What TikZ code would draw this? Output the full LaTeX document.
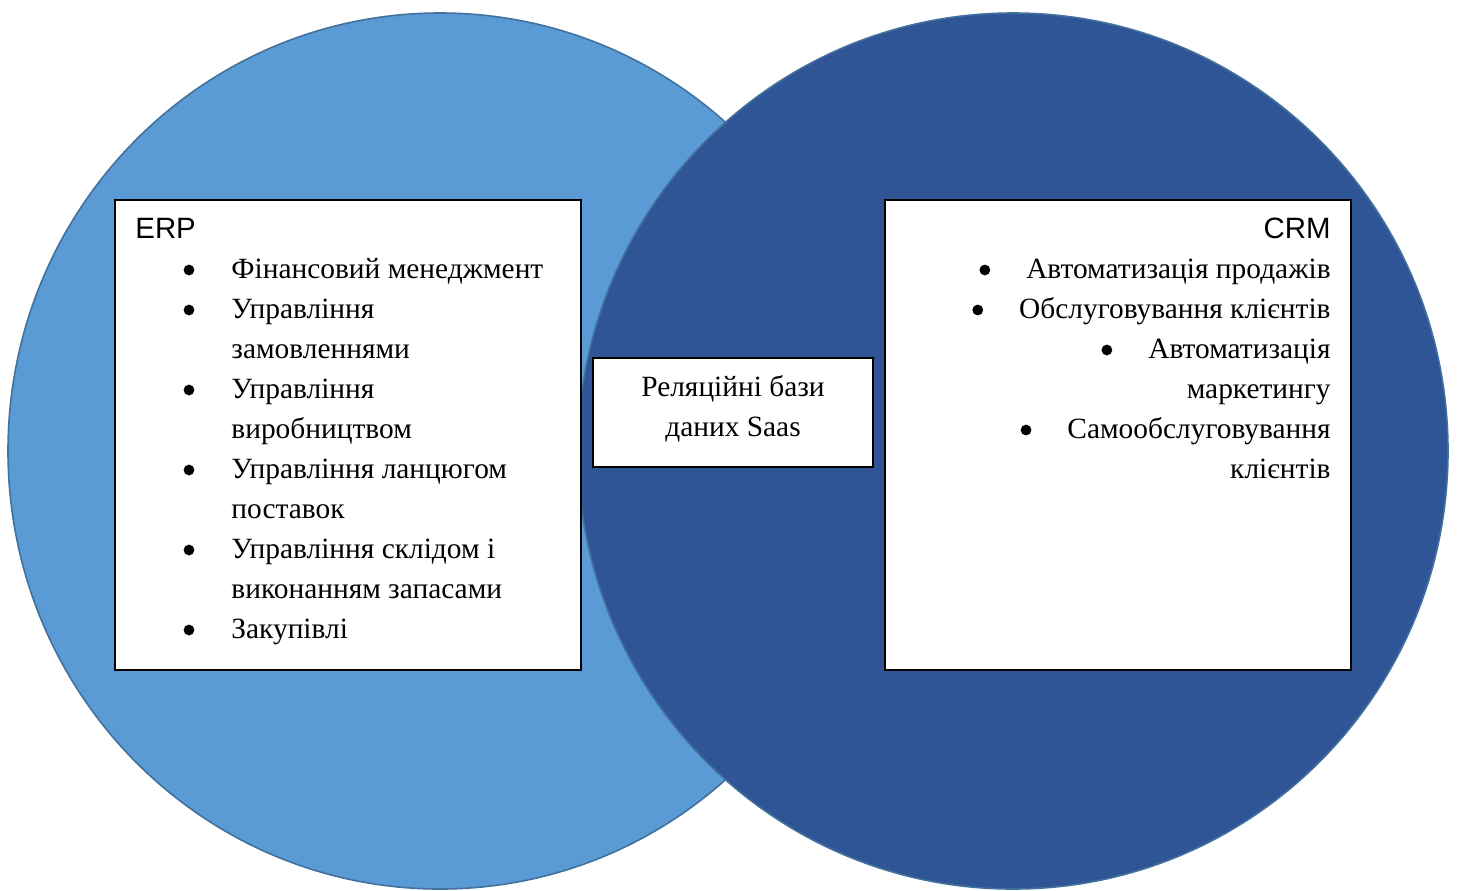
\documentclass[tikz,border=0pt]{standalone}
\usepackage{fontspec}
\setmainfont{Liberation Serif}
\setsansfont{Liberation Sans}
\usetikzlibrary{positioning}

\definecolor{erpblue}{HTML}{5B9BD5}
\definecolor{crmblue}{HTML}{2F5597}
\definecolor{edgeblue}{HTML}{41719C}

\begin{document}
\begin{tikzpicture}[
  x=.5pt,
  y=-.5pt,
  font=\fontsize{14.7}{20}\selectfont,
  zone/.style={draw=edgeblue,line width=.8pt},
  card/.style={draw=black,line width=1pt,fill=white,inner sep=0pt},
  head/.style={font=\sffamily\fontsize{14.7}{20}\selectfont,inner sep=0pt},
  entry/.style={inner sep=0pt,anchor=base west},
  rentry/.style={inner sep=0pt,anchor=base east},
  dot/.style={circle,fill=black,inner sep=0pt,minimum size=5.4pt}
]
\useasboundingbox (0,0) rectangle (1459,890);

\draw[zone,fill=erpblue] (440,451) ellipse [x radius=216pt,y radius=219pt];
\draw[zone,fill=crmblue] (1013,451) ellipse [x radius=217.5pt,y radius=219pt];

\node[card,minimum width=233pt,minimum height=235pt] (erp) at (348,435) {};
\node[card,minimum width=233pt,minimum height=235pt] (crm) at (1118,435) {};
\node[card,minimum width=140pt,minimum height=54.5pt] (saas) at (733,412.5) {};
\node[align=center,inner sep=0pt] (saastext) at ([yshift=2pt]saas.center)
  {Реляційні бази\\даних Saas};

\node[head,anchor=base west] (erptitle) at (135,238) {ERP};
\foreach \n/\t in {0/Фінансовий менеджмент,1/Управління,2/замовленнями,
  3/Управління,4/виробництвом,5/Управління ланцюгом,6/поставок,
  7/Управління склідом і,8/виконанням запасами,9/Закупівлі}
  \node[entry] (erpline\n) at (231,278+40*\n) {\t};
\foreach \n in {0,1,3,5,7,9}
  \node[dot] at ([xshift=-21pt,yshift=4pt]erpline\n.base west) {};

\node[head,anchor=base east] (crmtitle) at (1331,238) {CRM};
\foreach \n/\t in {0/Автоматизація продажів,1/Обслуговування клієнтів,
  2/Автоматизація,3/маркетингу,4/Самообслуговування,5/клієнтів}
  \node[rentry] (crmline\n) at (1331,278+40*\n) {\t};
\foreach \n in {0,1,2,4}
  \node[dot] at ([xshift=-20.5pt,yshift=4pt]crmline\n.base west) {};
\end{tikzpicture}
\end{document}
